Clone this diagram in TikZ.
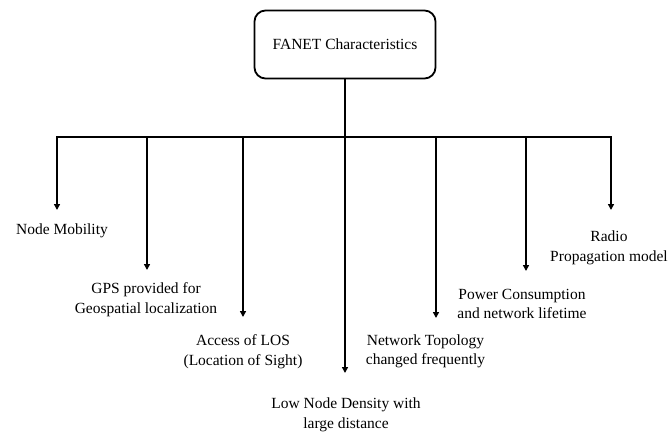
\documentclass[tikz,border=0pt]{standalone}
\usepackage{fontspec}
\setmainfont{Liberation Serif}
\usetikzlibrary{arrows.meta}
\begin{document}
\begin{tikzpicture}[x=1pt,y=-1pt,line width=1.8pt,
  lbl/.style={font=\fontsize{15.5}{19.5}\selectfont,align=center,inner sep=0pt},
  rootbox/.style={draw,rounded corners=11pt,minimum width=181pt,minimum height=68pt,font=\fontsize{15.5}{19.5}\selectfont},
  arr/.style={-{Triangle[width=6pt,length=6pt]}}]
\useasboundingbox (0,0) rectangle (670,434);
\node[rootbox] (root) at (345,44.5) {FANET Characteristics};
% bar points
\coordinate (b1) at (57,137);
\coordinate (b2) at (147,137);
\coordinate (b3) at (243,137);
\coordinate (b4) at (345,137);
\coordinate (b5) at (436,137);
\coordinate (b6) at (526,137);
\coordinate (b7) at (611,137);
% tips
\coordinate (t1) at (57,210);
\coordinate (t2) at (147,270);
\coordinate (t3) at (243,317);
\coordinate (t4) at (345,373);
\coordinate (t5) at (436,318);
\coordinate (t6) at (526,271);
\coordinate (t7) at (611,210);
% labels
\node[lbl] (n1) at (62,231) {Node Mobility};
\node[lbl] (n2) at (146,299.5) {GPS provided for\\Geospatial localization};
\node[lbl] (n3) at (243,351.5) {Access of LOS\\(Location of Sight)};
\node[lbl] (n4) at (346,415) {Low Node Density with\\large distance};
\node[lbl] (n5) at (425.5,351.5) {Network Topology\\changed frequently};
\node[lbl] (n6) at (522,304) {Power Consumption\\and network lifetime};
\node[lbl] (n7) at (609,248) {Radio\\Propagation model};
% connectors
\draw (root.south) -- (b4);
\draw (b2) -- (b6);
\draw[arr] (b2) -| (t1);
\draw[arr] (b6) -| (t7);
\foreach \i in {2,3,4,5,6} \draw[arr] (b\i) -- (t\i);
\end{tikzpicture}
\end{document}
